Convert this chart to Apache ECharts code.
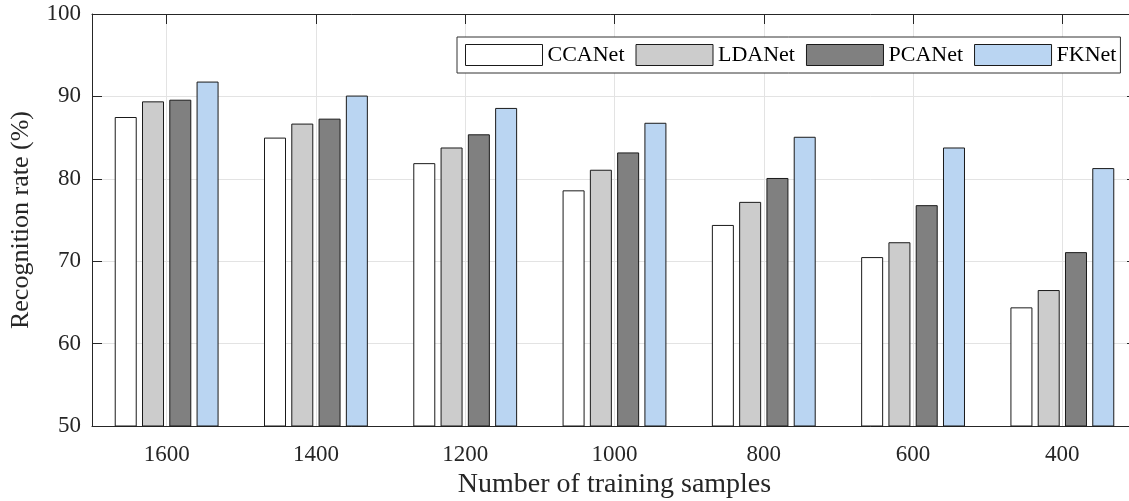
<!DOCTYPE html>
<html>
<head>
<meta charset="utf-8">
<title>Recognition rate vs training samples</title>
<script src="https://cdn.jsdelivr.net/npm/echarts@6/dist/echarts.min.js"></script>
<style>
    html, body { margin: 0; padding: 0; background: #fff; }
    #barChart { width: 1129px; height: 501px; }
</style>
</head>
<body>
<div id="barChart"></div>
<script>
var samples = ['1600', '1400', '1200', '1000', '800', '600', '400'];
var ccaNet = [87.5, 85.0, 81.9, 78.6, 74.4, 70.5, 64.4];
var ldaNet = [89.4, 86.7, 83.8, 81.1, 77.2, 72.3, 66.5];
var pcaNet = [89.6, 87.3, 85.4, 83.2, 80.1, 76.8, 71.1];
var fkNet = [91.8, 90.1, 88.6, 86.8, 85.1, 83.8, 81.3];
var seriesNames = ['CCANet', 'LDANet', 'PCANet', 'FKNet'];

var serif = '"Liberation Serif", "Times New Roman", serif';
var ink = '#262626';

// half-step axis on top: odd slots sit on the category centres,
// used for the top ticks and the vertical grid lines (MATLAB style)
var halfSteps = [''];
for (var i = 0; i < samples.length; i++) {
    halfSteps.push(samples[i]);
    halfSteps.push('');
}
function onCentre(index) {
    return index % 2 === 1;
}

var barChart = echarts.init(document.getElementById('barChart'));

function makeBar(name, data, color) {
    return {
        name: name,
        type: 'bar',
        xAxisIndex: 0,
        yAxisIndex: 0,
        data: data,
        barWidth: 22,
        barGap: '24%',
        itemStyle: {
            color: color,
            borderColor: '#1a1a1a',
            borderWidth: 1
        },
        emphasis: { disabled: true }
    };
}

option = {
    backgroundColor: '#fff',
    animation: false,
    grid: {
        left: 92,
        width: 1045,
        top: 14,
        bottom: 75,
        containLabel: false,
        outerBoundsMode: 'none'
    },
    legend: {
        data: seriesNames,
        left: 457,
        top: 37,
        padding: [7, 4, 7, 8],
        itemWidth: 77,
        itemHeight: 21,
        itemGap: 11,
        icon: 'rect',
        backgroundColor: '#fff',
        borderColor: '#333',
        borderWidth: 1,
        itemStyle: { borderColor: '#1a1a1a', borderWidth: 1 },
        textStyle: {
            fontFamily: serif,
            fontSize: 22,
            color: '#000'
        }
    },
    xAxis: [{
        type: 'category',
        data: samples,
        name: 'Number of training samples',
        nameLocation: 'middle',
        nameGap: 27,
        nameTextStyle: { fontFamily: serif, fontSize: 28, color: ink },
        axisLine: { lineStyle: { color: ink, width: 1 } },
        axisTick: { inside: true, alignWithLabel: true, length: 10, lineStyle: { color: ink } },
        axisLabel: { fontFamily: serif, fontSize: 23, color: ink, margin: 17 },
        splitLine: { show: false }
    }, {
        type: 'category',
        data: halfSteps,
        position: 'top',
        boundaryGap: false,
        axisLine: { lineStyle: { color: ink, width: 1 } },
        axisTick: { inside: true, interval: onCentre, length: 10, lineStyle: { color: ink } },
        axisLabel: { show: false },
        splitLine: { show: true, interval: onCentre, lineStyle: { color: '#e3e3e3', width: 1 } }
    }],
    yAxis: [{
        type: 'value',
        min: 50,
        max: 100,
        interval: 10,
        name: 'Recognition rate (%)',
        nameLocation: 'middle',
        nameGap: 58,
        nameTextStyle: { fontFamily: serif, fontSize: 26, color: ink },
        axisLine: { show: true, lineStyle: { color: ink, width: 1 } },
        axisTick: { show: true, inside: true, length: 10, lineStyle: { color: ink } },
        axisLabel: { fontFamily: serif, fontSize: 23, color: ink, margin: 11 },
        splitLine: { show: true, lineStyle: { color: '#e3e3e3', width: 1 } }
    }, {
        type: 'value',
        min: 50,
        max: 100,
        interval: 10,
        position: 'right',
        axisLine: { show: true, lineStyle: { color: ink, width: 1 } },
        axisTick: { show: true, inside: true, length: 10, lineStyle: { color: ink } },
        axisLabel: { show: false },
        splitLine: { show: false }
    }],
    series: [
        makeBar('CCANet', ccaNet, '#ffffff'),
        makeBar('LDANet', ldaNet, '#cccccc'),
        makeBar('PCANet', pcaNet, '#808080'),
        makeBar('FKNet', fkNet, '#bad5f2')
    ]
};

barChart.setOption(option);
</script>
</body>
</html>
